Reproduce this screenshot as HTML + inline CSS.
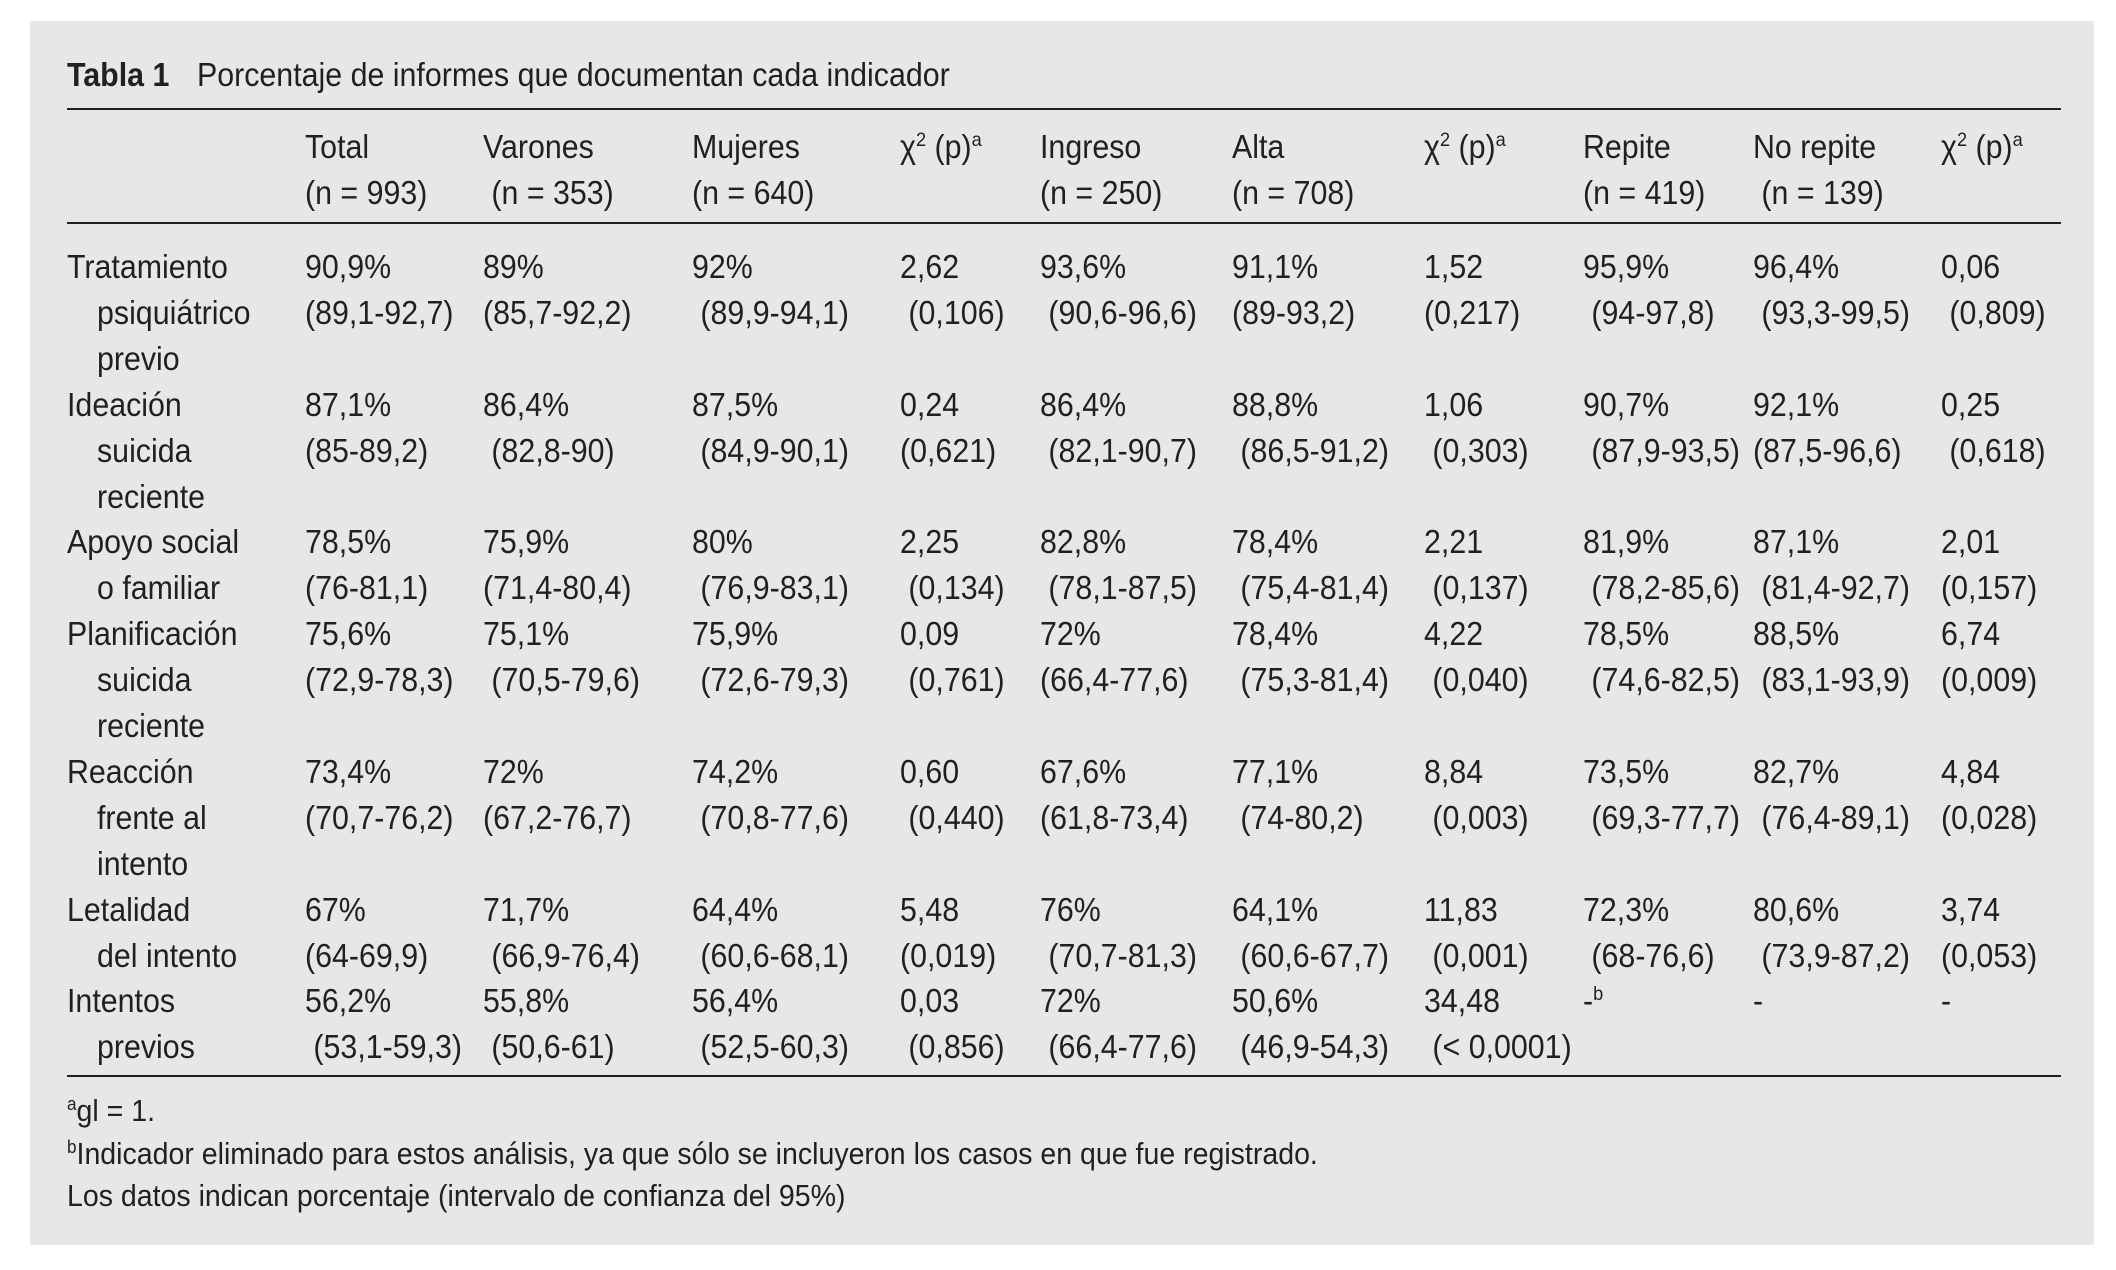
<!DOCTYPE html>
<html><head><meta charset="utf-8">
<style>
body{margin:0;width:2116px;height:1270px;background:#fff;position:relative;overflow:hidden;
font-family:"Liberation Sans",sans-serif;color:#231f20;}
#panel{position:absolute;left:30px;top:21px;width:2064px;height:1224px;background:#e6e7e9;}
.t{position:absolute;font-size:33px;line-height:46px;height:46px;white-space:pre;transform:scaleX(0.92);transform-origin:0 0;}
.rule{position:absolute;left:67px;width:1994px;height:2px;background:#231f20;}
sup{font-size:60%;line-height:0;vertical-align:0.6em;}
.fn{position:absolute;left:67px;font-size:31px;line-height:42px;white-space:pre;transform:scaleX(0.92);transform-origin:0 0;}
</style></head>
<body>
<div id="panel"></div>
<div class="t" style="left:67px;top:52px;"><b>Tabla 1</b></div>
<div class="t" style="left:197px;top:52px;">Porcentaje de informes que documentan cada indicador</div>
<div class="rule" style="top:108px"></div>
<div class="rule" style="top:222px"></div>
<div class="rule" style="top:1075px"></div>
<div id="body"></div>
<div class="fn" style="top:1090px"><sup>a</sup>gl = 1.</div>
<div class="fn" style="top:1133px"><sup>b</sup>Indicador eliminado para estos análisis, ya que sólo se incluyeron los casos en que fue registrado.</div>
<div class="fn" style="top:1175px">Los datos indican porcentaje (intervalo de confianza del 95%)</div>
<script>
const colX=[305,483,692,900,1040,1232,1424,1583,1753,1941];
const headers=[["Total","(n = 993)"],["Varones"," (n = 353)"],["Mujeres","(n = 640)"],["χ<sup>2</sup> (p)<sup>a</sup>",""],["Ingreso","(n = 250)"],["Alta","(n = 708)"],["χ<sup>2</sup> (p)<sup>a</sup>",""],["Repite","(n = 419)"],["No repite"," (n = 139)"],["χ<sup>2</sup> (p)<sup>a</sup>",""]];
const labels=[["Tratamiento","psiquiátrico","previo"],["Ideación","suicida","reciente"],["Apoyo social","o familiar"],["Planificación","suicida","reciente"],["Reacción","frente al","intento"],["Letalidad","del intento"],["Intentos","previos"]];
const vals=[
[["90,9%","(89,1-92,7)"],["89%","(85,7-92,2)"],["92%"," (89,9-94,1)"],["2,62"," (0,106)"],["93,6%"," (90,6-96,6)"],["91,1%","(89-93,2)"],["1,52","(0,217)"],["95,9%"," (94-97,8)"],["96,4%"," (93,3-99,5)"],["0,06"," (0,809)"]],
[["87,1%","(85-89,2)"],["86,4%"," (82,8-90)"],["87,5%"," (84,9-90,1)"],["0,24","(0,621)"],["86,4%"," (82,1-90,7)"],["88,8%"," (86,5-91,2)"],["1,06"," (0,303)"],["90,7%"," (87,9-93,5)"],["92,1%","(87,5-96,6)"],["0,25"," (0,618)"]],
[["78,5%","(76-81,1)"],["75,9%","(71,4-80,4)"],["80%"," (76,9-83,1)"],["2,25"," (0,134)"],["82,8%"," (78,1-87,5)"],["78,4%"," (75,4-81,4)"],["2,21"," (0,137)"],["81,9%"," (78,2-85,6)"],["87,1%"," (81,4-92,7)"],["2,01","(0,157)"]],
[["75,6%","(72,9-78,3)"],["75,1%"," (70,5-79,6)"],["75,9%"," (72,6-79,3)"],["0,09"," (0,761)"],["72%","(66,4-77,6)"],["78,4%"," (75,3-81,4)"],["4,22"," (0,040)"],["78,5%"," (74,6-82,5)"],["88,5%"," (83,1-93,9)"],["6,74","(0,009)"]],
[["73,4%","(70,7-76,2)"],["72%","(67,2-76,7)"],["74,2%"," (70,8-77,6)"],["0,60"," (0,440)"],["67,6%","(61,8-73,4)"],["77,1%"," (74-80,2)"],["8,84"," (0,003)"],["73,5%"," (69,3-77,7)"],["82,7%"," (76,4-89,1)"],["4,84","(0,028)"]],
[["67%","(64-69,9)"],["71,7%"," (66,9-76,4)"],["64,4%"," (60,6-68,1)"],["5,48","(0,019)"],["76%"," (70,7-81,3)"],["64,1%"," (60,6-67,7)"],["11,83"," (0,001)"],["72,3%"," (68-76,6)"],["80,6%"," (73,9-87,2)"],["3,74","(0,053)"]],
[["56,2%"," (53,1-59,3)"],["55,8%"," (50,6-61)"],["56,4%"," (52,5-60,3)"],["0,03"," (0,856)"],["72%"," (66,4-77,6)"],["50,6%"," (46,9-54,3)"],["34,48"," (&lt; 0,0001)"],["-<sup>b</sup>",""],["-",""],["-",""]]
];
const body=document.getElementById('body');
function put(x,y,html,name){
  const d=document.createElement('div');
  d.className='t';
  d.style.left=x+'px';d.style.top=y+'px';
  d.innerHTML=html;
  
  
  body.appendChild(d);
}
const LH=45.9;
headers.forEach((h,i)=>{
  put(colX[i],124,h[0],'header-'+i);
  if(h[1]) put(colX[i],170,h[1],'header-n-'+i);
});
let line=0;
labels.forEach((lab,r)=>{
  const y0=244+line*LH;
  lab.forEach((t,k)=>put(k?97:67,y0+k*LH,t,'row-label-'+r));
  vals[r].forEach((c,i)=>{
    put(colX[i],y0,c[0],'cell-value-'+r+'-'+i);
    if(c[1]) put(colX[i],y0+LH,c[1],'cell-ci-'+r+'-'+i);
  });
  line+=lab.length;
});
</script>
</body></html>
